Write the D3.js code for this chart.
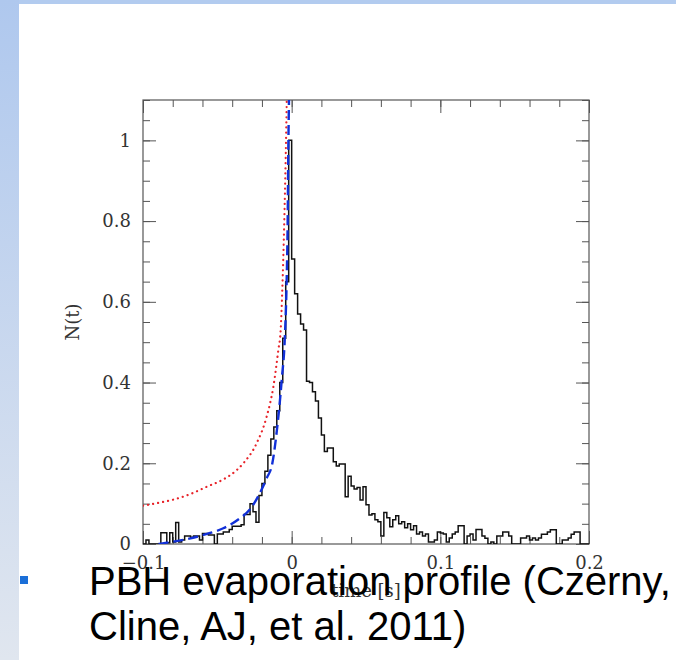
<!DOCTYPE html>
<html>
<head>
<meta charset="utf-8">
<script src="https://cdn.jsdelivr.net/npm/d3@7"></script>
<style>
  body { margin: 0; background: #fff; }
  svg { display: block; }
</style>
</head>
<body>
<svg id="chart"></svg>
<script>
// histogram of the burst, bins of 0.002 s from -0.1 s
const binStart = -0.1;
const binWidth = 0.002;
const counts = [
  0, 0.01, 0, 0, 0, 0, 0.028, 0.028, 0.003, 0.028,
  0.005, 0.053, 0.005, 0.01, 0.02, 0.02, 0.017, 0.02, 0.02, 0.01,
  0.026, 0.026, 0.022, 0.022, 0, 0.025, 0.025, 0.03, 0.03, 0.036,
  0.044, 0.044, 0.044, 0.048, 0.073, 0.073, 0.1, 0.08, 0.054, 0.12,
  0.15, 0.18, 0.22, 0.26, 0.29, 0.33, 0.40, 0.51, 0.65, 1.0,
  0.706, 0.62, 0.57, 0.545, 0.53, 0.403, 0.40, 0.377, 0.354, 0.312,
  0.27, 0.229, 0.238, 0.238, 0.204, 0.193, 0.198, 0.198, 0.117, 0.168,
  0.144, 0.136, 0.14, 0.109, 0.142, 0.097, 0.072, 0.075, 0.06, 0.055,
  0.02, 0.078, 0.065, 0.043, 0.06, 0.07, 0.05, 0.055, 0.04, 0.05,
  0.035, 0.045, 0.025, 0.03, 0.02, 0.025, 0.005, 0.005, 0.01, 0.03,
  0.027, 0.025, 0.005, 0.015, 0.025, 0.03, 0.045, 0.045, 0, 0.02,
  0.025, 0.01, 0.036, 0.036, 0.02, 0.014, 0, 0.005, 0, 0.02,
  0.02, 0.03, 0.03, 0.02, 0, 0, 0, 0.015, 0.015, 0.02,
  0.01, 0.015, 0.01, 0.015, 0.024, 0.024, 0.03, 0.035, 0.035, 0,
  0, 0.01, 0.01, 0.015, 0.024, 0.03, 0.03, 0, 0, 0
];

// model curves: [time, N]
const redCurve = [
  [-0.1, 0.095], [-0.0895, 0.102], [-0.0795, 0.11], [-0.068, 0.124], [-0.057, 0.142],
  [-0.046, 0.16], [-0.037, 0.183], [-0.0325, 0.2], [-0.0235, 0.25], [-0.0168, 0.316],
  [-0.0123, 0.39], [-0.009, 0.48], [-0.0074, 0.53], [-0.0063, 0.63], [-0.005, 0.795],
  [-0.004, 0.96], [-0.0033, 1.1]
];
const blueCurve = [
  [-0.0895, 0], [-0.0795, 0.006], [-0.068, 0.014], [-0.057, 0.025], [-0.046, 0.039],
  [-0.0347, 0.064], [-0.028, 0.086], [-0.0224, 0.119], [-0.0168, 0.163], [-0.013, 0.2],
  [-0.01, 0.28], [-0.0067, 0.406], [-0.0045, 0.52], [-0.0034, 0.647], [-0.0027, 0.795],
  [-0.0023, 0.96], [-0.0018, 1.1]
];

const xMajor = [-0.1, 0, 0.1, 0.2];
const xMajorLabels = ['\u22120.1', '0', '0.1', '0.2'];
const xMinor = d3.range(-0.1, 0.2001, 0.02);
const yMajor = [0, 0.2, 0.4, 0.6, 0.8, 1];
const yMinor = d3.range(0, 1.1001, 0.05);

const bulletLines = ['PBH evaporation profile (Czerny,', 'Cline, AJ, et al. 2011)'];

const W = 676, H = 660;
const margin = {top: 100, right: 87, bottom: 116, left: 143};
const width = W - margin.left - margin.right;
const height = H - margin.top - margin.bottom;

const svg = d3.select('#chart').attr('width', W).attr('height', H);

// slide background
const defs = svg.append('defs');
const grad = defs.append('linearGradient').attr('id', 'side').attr('x1', 0).attr('y1', 0).attr('x2', 0).attr('y2', 1);
grad.append('stop').attr('offset', '0%').attr('stop-color', '#afc8ee');
grad.append('stop').attr('offset', '100%').attr('stop-color', '#e0e6ef');
svg.append('rect').attr('x', 0).attr('y', 0).attr('width', W).attr('height', 4).attr('fill', '#b2cbef');
svg.append('rect').attr('x', 0).attr('y', 0).attr('width', 19).attr('height', H).attr('fill', 'url(#side)');

defs.append('clipPath').attr('id', 'plotclip')
  .append('rect').attr('width', width).attr('height', height);

const g = svg.append('g').attr('transform', `translate(${margin.left},${margin.top})`);

const x = d3.scaleLinear().domain([-0.1, 0.2]).range([0, width]);
const y = d3.scaleLinear().domain([0, 1.1]).range([height, 0]);

const serif = '"DejaVu Serif", serif';

function tickAxis(axis, transform) {
  const a = g.append('g').attr('transform', transform).call(axis);
  a.select('.domain').remove();
  a.selectAll('line').attr('stroke', '#555').attr('stroke-width', 1);
  a.selectAll('text').attr('font-family', serif).attr('font-size', 18).attr('fill', '#333');
  return a;
}

// minor ticks on all sides
tickAxis(d3.axisBottom(x).tickValues(xMinor).tickSize(-7).tickFormat(''), `translate(0,${height})`);
tickAxis(d3.axisTop(x).tickValues(xMinor).tickSize(-7).tickFormat(''), 'translate(0,0)');
tickAxis(d3.axisLeft(y).tickValues(yMinor).tickSize(-7).tickFormat(''), 'translate(0,0)');
tickAxis(d3.axisRight(y).tickValues(yMinor).tickSize(-7).tickFormat(''), `translate(${width},0)`);

// major ticks with labels
tickAxis(d3.axisBottom(x).tickValues(xMajor).tickSize(-13).tickPadding(12)
  .tickFormat((d, i) => xMajorLabels[i]), `translate(0,${height})`);
tickAxis(d3.axisTop(x).tickValues(xMajor).tickSize(-13).tickFormat(''), 'translate(0,0)');
tickAxis(d3.axisLeft(y).tickValues(yMajor).tickSize(-13).tickPadding(12)
  .tickFormat(d3.format('')), 'translate(0,0)');
tickAxis(d3.axisRight(y).tickValues(yMajor).tickSize(-13).tickFormat(''), `translate(${width},0)`);

// frame
g.append('rect').attr('width', width).attr('height', height)
  .attr('fill', 'none').attr('stroke', '#555').attr('stroke-width', 1.2);

const plot = g.append('g').attr('clip-path', 'url(#plotclip)');

// histogram as a step outline
const steps = [[binStart, 0]];
counts.forEach((c, i) => {
  const t0 = binStart + i * binWidth;
  steps.push([t0, c], [t0 + binWidth, c]);
});
steps.push([binStart + counts.length * binWidth, 0]);

plot.append('path')
  .datum(steps)
  .attr('fill', 'none')
  .attr('stroke', '#111')
  .attr('stroke-width', 1.5)
  .attr('stroke-linejoin', 'miter')
  .attr('d', d3.line().x(d => x(d[0])).y(d => y(d[1])));

const curve = d3.line().x(d => x(d[0])).y(d => y(d[1])).curve(d3.curveMonotoneX);

plot.append('path')
  .datum(redCurve)
  .attr('fill', 'none')
  .attr('stroke', '#e8242a')
  .attr('stroke-width', 2.2)
  .attr('stroke-linecap', 'round')
  .attr('stroke-dasharray', '0.1 5')
  .attr('d', curve);

plot.append('path')
  .datum(blueCurve)
  .attr('fill', 'none')
  .attr('stroke', '#1130d8')
  .attr('stroke-width', 2.4)
  .attr('stroke-dasharray', '10 5')
  .attr('d', curve);

// axis titles
g.append('text')
  .attr('x', width / 2)
  .attr('y', height + 53)
  .attr('text-anchor', 'middle')
  .attr('font-family', serif).attr('font-size', 18).attr('fill', '#333')
  .text('time [s]');

g.append('text')
  .attr('transform', `translate(-64,${height / 2}) rotate(-90)`)
  .attr('text-anchor', 'middle')
  .attr('font-family', serif).attr('font-size', 18).attr('fill', '#333')
  .text('N(t)');

// slide bullet text
svg.append('rect').attr('x', 20).attr('y', 576).attr('width', 8).attr('height', 8).attr('fill', '#1b6fd8');
svg.append('g').selectAll('text')
  .data(bulletLines)
  .join('text')
  .attr('x', 89)
  .attr('y', (d, i) => 595 + i * 45)
  .attr('font-family', '"Liberation Sans", Arial, sans-serif')
  .attr('font-size', 40)
  .attr('fill', '#000')
  .text(d => d);
</script>
</body>
</html>
